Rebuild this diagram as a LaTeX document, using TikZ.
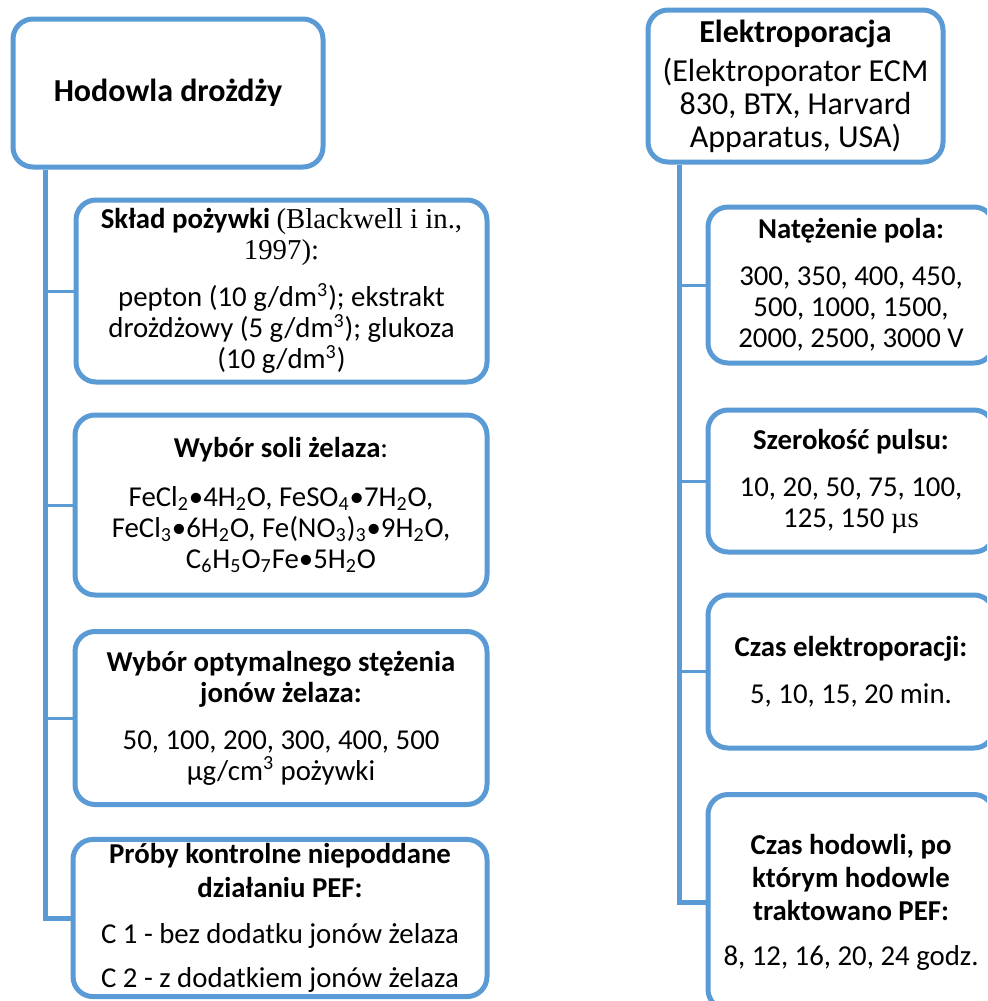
\documentclass[tikz,border=0pt]{standalone}
\usepackage{fontspec}
\setmainfont{Carlito}
\newfontfamily\tnr{Liberation Serif}
\usepackage{tikz}

\definecolor{frameblue}{RGB}{91,155,213}
\newcommand{\lo}[1]{\textsubscript{#1}}
\newcommand{\hi}[1]{\textsuperscript{#1}}

\begin{document}
\begin{tikzpicture}[x=0.5pt,y=-0.5pt,
    box/.style={draw=frameblue, line width=2.5pt, rounded corners=10pt, fill=white,
        align=center, inner sep=2pt, font=\fontsize{14.4}{15.5}\selectfont},
    headbox/.style={box, font=\fontsize{16}{16.5}\selectfont},
    trunk/.style={draw=frameblue, line width=2.5pt},
    branch/.style={draw=frameblue, line width=1.5pt}]
    \clip (0,0) rectangle (987,1001);
    \fill[white] (0,0) rectangle (987,1001);
    % left column: yeast culture
    \node[headbox, minimum width=155pt, minimum height=74pt] (hod) at (168,93)
        {\textbf{Hodowla drożdży}};
    \node[box, minimum width=205.5pt, minimum height=91pt] (skl) at (281.5,291)
        {\textbf{Skład pożywki} {\tnr (Blackwell i in.,}\\{\tnr 1997):}\\[8pt]
         pepton (10 g/dm\hi{3}); ekstrakt\\drożdżowy (5 g/dm\hi{3}); glukoza\\(10 g/dm\hi{3})};
    \node[box, minimum width=206pt, minimum height=90pt] (sol) at (281,505)
        {\textbf{Wybór soli żelaza}:\\[9pt]
         FeCl\lo{2}•4H\lo{2}O, FeSO\lo{4}•7H\lo{2}O,\\
         FeCl\lo{3}•6H\lo{2}O, Fe(NO\lo{3})\lo{3}•9H\lo{2}O,\\
         C\lo{6}H\lo{5}O\lo{7}Fe•5H\lo{2}O};
    \node[box, minimum width=206pt, minimum height=86.5pt] (stez) at (281,718)
        {\textbf{Wybór optymalnego stężenia}\\\textbf{jonów żelaza:}\\[8pt]
         50, 100, 200, 300, 400, 500\\µg/cm\hi{3} pożywki};
    \node[box, minimum width=207pt, minimum height=75pt,
          font=\fontsize{14.4}{17}\selectfont] (kontr) at (280,918)
        {\textbf{Próby kontrolne niepoddane}\\\textbf{działaniu PEF:}\\[6pt]
         C 1 - bez dodatku jonów żelaza\\[5pt]C 2 - z dodatkiem jonów żelaza};
    % right column: electroporation
    \node[headbox, minimum width=147.5pt, minimum height=76pt] (elek) at (795.5,86)
        {\textbf{Elektroporacja}\\[3pt](Elektroporator ECM\\830, BTX, Harvard\\Apparatus, USA)};
    \node[box, minimum width=143pt, minimum height=78pt] (nat) at (851,285)
        {\textbf{Natężenie pola:}\\[8pt]300, 350, 400, 450,\\500, 1000, 1500,\\2000, 2500, 3000 V};
    \node[box, minimum width=143pt, minimum height=71pt] (szer) at (851,481)
        {\textbf{Szerokość pulsu:}\\[8pt]10, 20, 50, 75, 100,\\125, 150 {\tnr µs}};
    \node[box, minimum width=143pt, minimum height=76.5pt] (czas) at (851,671.5)
        {\textbf{Czas elektroporacji:}\\[8pt]5, 10, 15, 20 min.};
    \node[box, minimum width=143pt, minimum height=107.5pt,
          font=\fontsize{14.4}{16.5}\selectfont] (hodc) at (851,902)
        {\textbf{Czas hodowli, po}\\\textbf{którym hodowle}\\\textbf{traktowano PEF:}\\[6pt]
         8, 12, 16, 20, 24 godz.};
    % connectors
    \coordinate (lt) at (45,0);
    \coordinate (rt) at (679,0);
    \draw[trunk] (lt |- hod.south) |- (kontr.west);
    \foreach \b in {skl,sol,stez}
        \draw[branch] (lt |- \b.west) -- (\b.west);
    \draw[trunk] (rt |- elek.south) |- (hodc.west);
    \foreach \b in {nat,szer,czas}
        \draw[branch] (rt |- \b.west) -- (\b.west);
\end{tikzpicture}
\end{document}
